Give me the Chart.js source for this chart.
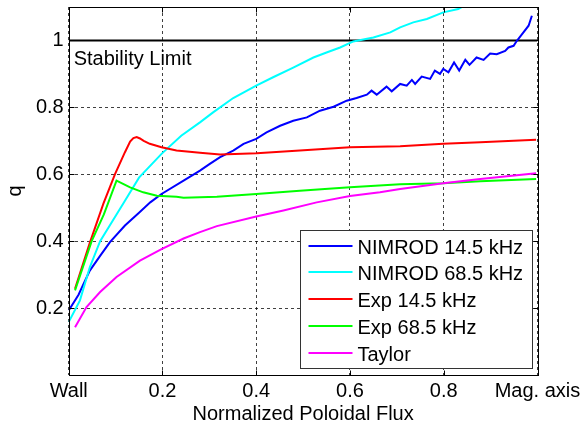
<!DOCTYPE html>
<html>
<head>
<meta charset="utf-8">
<style>
html,body{margin:0;padding:0;background:#fff;}
#wrap{width:582px;height:426px;position:relative;}
</style>
<script src="https://cdn.jsdelivr.net/npm/chart.js@4.4.0/dist/chart.umd.min.js"></script>
</head>
<body>
<div id="wrap"><canvas id="c" width="582" height="426"></canvas></div>
<script>
// ---- tick definitions ----
const xTickValues = [0, 0.2, 0.4, 0.6, 0.8, 1];
const xTickLabels = ['Wall', '0.2', '0.4', '0.6', '0.8', 'Mag. axis'];
const yTickValues = [0, 0.2, 0.4, 0.6, 0.8, 1];
const yTickLabels = ['', '0.2', '0.4', '0.6', '0.8', '1'];
const stabilityQ = 1;
const stabilityLabel = 'Stability Limit';

// ---- series (x = normalized poloidal flux, q) ----
const nimrod145X = [0, 0.021, 0.045, 0.067, 0.088, 0.12, 0.15, 0.174, 0.198, 0.245, 0.28, 0.301, 0.323, 0.351, 0.373, 0.4, 0.422, 0.451, 0.479, 0.508, 0.536, 0.565, 0.593, 0.614, 0.636, 0.646, 0.657, 0.678, 0.689, 0.707, 0.721, 0.732, 0.739, 0.753, 0.771, 0.781, 0.792, 0.799, 0.81, 0.822, 0.833, 0.846, 0.855, 0.87, 0.885, 0.899, 0.913, 0.931, 0.938, 0.949, 0.956, 0.97, 0.981, 0.988];
const nimrod145Q = [0.193, 0.24, 0.312, 0.356, 0.397, 0.447, 0.485, 0.516, 0.541, 0.581, 0.611, 0.631, 0.651, 0.671, 0.691, 0.706, 0.725, 0.745, 0.76, 0.77, 0.79, 0.802, 0.82, 0.828, 0.838, 0.85, 0.838, 0.862, 0.848, 0.87, 0.865, 0.882, 0.87, 0.892, 0.885, 0.91, 0.90, 0.915, 0.905, 0.934, 0.91, 0.942, 0.927, 0.949, 0.942, 0.961, 0.959, 0.969, 0.979, 0.984, 0.999, 1.024, 1.044, 1.074];

const nimrod685X = [0, 0.024, 0.045, 0.067, 0.12, 0.15, 0.198, 0.24, 0.28, 0.308, 0.351, 0.4, 0.436, 0.479, 0.522, 0.55, 0.579, 0.607, 0.65, 0.686, 0.707, 0.735, 0.764, 0.799, 0.831, 0.845];
const nimrod685Q = [0.158, 0.223, 0.322, 0.40, 0.521, 0.59, 0.661, 0.715, 0.755, 0.785, 0.828, 0.865, 0.89, 0.919, 0.949, 0.964, 0.979, 0.997, 1.009, 1.024, 1.039, 1.054, 1.064, 1.084, 1.094, 1.105];

const exp145X = [0.0135, 0.045, 0.074, 0.099, 0.12, 0.131, 0.138, 0.145, 0.152, 0.16, 0.173, 0.198, 0.23, 0.28, 0.323, 0.401, 0.493, 0.6, 0.707, 0.799, 0.878, 0.997];
const exp145Q = [0.258, 0.395, 0.512, 0.601, 0.666, 0.698, 0.708, 0.711, 0.707, 0.70, 0.691, 0.681, 0.671, 0.664, 0.659, 0.663, 0.671, 0.681, 0.684, 0.691, 0.696, 0.703];

const exp685X = [0.0135, 0.049, 0.075, 0.102, 0.131, 0.159, 0.188, 0.23, 0.245, 0.28, 0.316, 0.4, 0.493, 0.6, 0.707, 0.799, 0.878, 0.997];
const exp685Q = [0.253, 0.40, 0.48, 0.581, 0.561, 0.546, 0.536, 0.533, 0.530, 0.531, 0.533, 0.541, 0.551, 0.561, 0.570, 0.573, 0.579, 0.586];

const taylorX = [0.0135, 0.038, 0.067, 0.102, 0.152, 0.198, 0.245, 0.28, 0.316, 0.4, 0.458, 0.529, 0.6, 0.664, 0.707, 0.799, 0.878, 0.997];
const taylorQ = [0.143, 0.203, 0.248, 0.293, 0.342, 0.376, 0.408, 0.427, 0.445, 0.474, 0.492, 0.516, 0.535, 0.546, 0.556, 0.573, 0.586, 0.603];

const seriesLabels = ['NIMROD 14.5 kHz', 'NIMROD 68.5 kHz', 'Exp 14.5 kHz', 'Exp 68.5 kHz', 'Taylor'];
const seriesColors = ['#0000ff', '#00ffff', '#ff0000', '#00ff00', '#ff00ff'];

const FONT = "'Liberation Sans', Arial, Helvetica, sans-serif";

function pts(xs, ys) { return xs.map((x, i) => ({x: x, y: ys[i]})); }

const seriesData = [
  pts(nimrod145X, nimrod145Q),
  pts(nimrod685X, nimrod685Q),
  pts(exp145X, exp145Q),
  pts(exp685X, exp685Q),
  pts(taylorX, taylorQ)
];

const datasets = [{
  label: stabilityLabel,
  data: [{x: 0, y: stabilityQ}, {x: 1, y: stabilityQ}],
  borderColor: '#000',
  borderWidth: 2,
  pointRadius: 0,
  inLegend: false,
  order: 10
}].concat(seriesData.map((d, i) => ({
  label: seriesLabels[i],
  data: d,
  borderColor: seriesColors[i],
  borderWidth: 2,
  pointRadius: 0,
  tension: 0,
  inLegend: true,
  order: 5 - i
})));

const decorPlugin = {
  id: 'decor',
  afterDraw(chart) {
    const {ctx, chartArea: a, scales: {x, y}} = chart;
    ctx.save();
    const L = Math.round(a.left) + 0.5, T = Math.round(a.top) + 0.5;
    const R = Math.round(a.right) + 0.5, B = Math.round(a.bottom) + 0.5;
    ctx.strokeStyle = '#000';
    ctx.lineWidth = 1;
    ctx.setLineDash([]);
    ctx.strokeRect(L, T, R - L, B - T);
    ctx.beginPath();
    x.ticks.forEach(t => {
      const px = Math.round(x.getPixelForValue(t.value)) + 0.5;
      ctx.moveTo(px, B); ctx.lineTo(px, B - 5);
      ctx.moveTo(px, T); ctx.lineTo(px, T + 5);
    });
    y.ticks.forEach(t => {
      const py = Math.round(y.getPixelForValue(t.value)) + 0.5;
      ctx.moveTo(L, py); ctx.lineTo(L + 5, py);
      ctx.moveTo(R, py); ctx.lineTo(R - 5, py);
    });
    ctx.stroke();

    ctx.fillStyle = '#000';
    ctx.font = '20px ' + FONT;
    ctx.textAlign = 'left';
    ctx.textBaseline = 'alphabetic';
    ctx.fillText(stabilityLabel, x.getPixelForValue(0) + 5, y.getPixelForValue(stabilityQ) + 24.5);

    const items = chart.data.datasets.filter(d => d.inLegend);
    const bw = 232, bh = 138;
    const bx = Math.round(a.right - 5.5 - bw) + 0.5;
    const by = Math.round(a.bottom - 7 - bh) + 0.5;
    ctx.fillStyle = '#fff';
    ctx.fillRect(bx, by, bw, bh);
    ctx.strokeStyle = '#333';
    ctx.lineWidth = 1;
    ctx.strokeRect(bx, by, bw, bh);
    items.forEach((d, i) => {
      const base = by + 23 + i * 26.8;
      const ly = Math.round(base - 8);
      ctx.strokeStyle = d.borderColor;
      ctx.lineWidth = 2;
      ctx.beginPath();
      ctx.moveTo(bx + 8, ly); ctx.lineTo(bx + 52, ly);
      ctx.stroke();
      ctx.fillStyle = '#000';
      ctx.fillText(d.label, bx + 57, base);
    });
    ctx.restore();
  }
};

new Chart(document.getElementById('c'), {
  type: 'line',
  data: {datasets: datasets},
  options: {
    responsive: false,
    animation: false,
    devicePixelRatio: 1,
    layout: {padding: {top: 7, right: 44.5, left: 0, bottom: 0}},
    plugins: {legend: {display: false}, tooltip: {enabled: false}},
    elements: {line: {tension: 0}},
    scales: {
      x: {
        type: 'linear',
        min: 0, max: 1,
        afterBuildTicks: s => { s.ticks = xTickValues.map(v => ({value: v})); },
        afterFit: s => { s.height = 51; s.paddingLeft = 0; s.paddingRight = 0; },
        ticks: {
          autoSkip: false, maxRotation: 0, padding: 4,
          color: '#000', font: {family: FONT, size: 20},
          callback: (v, i) => xTickLabels[i]
        },
        grid: {color: 'rgba(0,0,0,0.75)', lineWidth: 1, drawTicks: false},
        border: {display: false, dash: [3, 3]},
        title: {display: true, text: 'Normalized Poloidal Flux', color: '#000',
                font: {family: FONT, size: 20}, padding: {top: 0, bottom: 0}}
      },
      y: {
        type: 'linear',
        min: 0, max: 1.1,
        afterBuildTicks: s => { s.ticks = yTickValues.map(v => ({value: v})); },
        afterFit: s => { s.width = 68.7; s.paddingTop = 0; s.paddingBottom = 0; },
        ticks: {
          autoSkip: false, padding: 5,
          color: '#000', font: {family: FONT, size: 20},
          callback: (v, i) => yTickLabels[i]
        },
        grid: {color: 'rgba(0,0,0,0.75)', lineWidth: 1, drawTicks: false},
        border: {display: false, dash: [3, 3]},
        title: {display: true, text: 'q', color: '#000',
                font: {family: FONT, size: 20}, padding: {top: 3.5, bottom: 0}}
      }
    }
  },
  plugins: [decorPlugin]
});
</script>
</body>
</html>
